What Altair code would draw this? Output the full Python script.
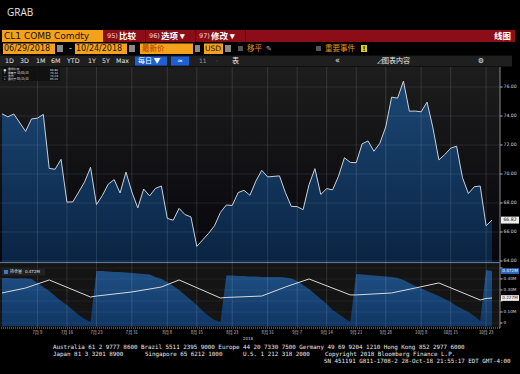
import altair as alt
import pandas as pd

# ---------------- data ----------------
dates = ["06/29", "07/02", "07/03", "07/05", "07/06", "07/09", "07/10", "07/11", "07/12", "07/13",
         "07/16", "07/17", "07/18", "07/19", "07/20", "07/23", "07/24", "07/25", "07/26", "07/27",
         "07/30", "07/31", "08/01", "08/02", "08/03", "08/06", "08/07", "08/08", "08/09", "08/10",
         "08/13", "08/14", "08/15", "08/16", "08/17", "08/20", "08/21", "08/22", "08/23", "08/24",
         "08/27", "08/28", "08/29", "08/30", "08/31", "09/04", "09/05", "09/06", "09/07", "09/10",
         "09/11", "09/12", "09/13", "09/14", "09/17", "09/18", "09/19", "09/20", "09/21", "09/24",
         "09/25", "09/26", "09/27", "09/28", "10/01", "10/02", "10/03", "10/04", "10/05", "10/08",
         "10/09", "10/10", "10/11", "10/12", "10/15", "10/16", "10/17", "10/18", "10/19", "10/22",
         "10/23", "10/24"]
# weekday position of each session (holidays leave a gap)
day_idx = [0, 1, 2] + list(range(4, 46)) + list(range(47, 84))
price = [74.15, 73.94, 74.14, 72.94, 73.80, 73.85, 74.11, 70.38, 70.33, 71.01,
         68.06, 68.08, 68.76, 69.46, 70.46, 67.89, 68.52, 69.30, 69.61, 68.69,
         70.13, 68.76, 67.66, 68.96, 68.49, 69.01, 69.17, 66.94, 66.81, 67.63,
         67.20, 67.04, 65.01, 65.46, 65.91, 66.43, 67.35, 67.86, 67.83, 68.72,
         68.87, 68.53, 69.51, 70.25, 69.80, 69.87, 68.72, 67.77, 67.75, 67.54,
         69.25, 70.37, 68.59, 68.99, 68.91, 69.85, 71.12, 70.80, 70.78, 72.08,
         72.28, 71.57, 72.12, 73.25, 75.30, 75.23, 76.41, 74.33, 74.34, 74.29,
         74.96, 73.17, 70.97, 71.34, 71.78, 71.92, 69.75, 68.65, 69.12, 69.17,
         66.43, 66.82]
open_int = [0.409, 0.409, 0.405, 0.405, 0.400, 0.364, 0.327, 0.291, 0.245, 0.200,
            0.164, 0.118, 0.073, 0.036, 0.009,
            0.473, 0.473, 0.468, 0.464, 0.464, 0.459, 0.455, 0.450, 0.445, 0.441,
            0.418, 0.400, 0.373, 0.336, 0.300, 0.255, 0.209, 0.164, 0.109, 0.064,
            0.027, 0.009,
            0.432, 0.432, 0.427, 0.427, 0.423, 0.423, 0.418, 0.418,
            0.418, 0.414, 0.405, 0.382, 0.345, 0.309, 0.264, 0.218, 0.173, 0.118,
            0.082, 0.045, 0.009,
            0.445, 0.441, 0.436, 0.432, 0.427, 0.423, 0.418, 0.409, 0.391, 0.364,
            0.336, 0.314, 0.291, 0.268, 0.245, 0.218, 0.191, 0.155, 0.127, 0.100,
            0.064, 0.018,
            0.482, 0.472]
wl_idx = [0, 4, 8, 15, 16, 22, 27, 30, 37, 38, 44, 48, 52, 59, 60, 66, 70, 74, 81, 82, 83]
wl_val = [0.273, 0.318, 0.391, 0.236, 0.245, 0.282, 0.327, 0.391, 0.227, 0.232, 0.245,
          0.327, 0.400, 0.255, 0.255, 0.273, 0.318, 0.364, 0.209, 0.223, 0.227]
tick_idx = [6, 11, 16, 22, 28, 33, 39, 45, 50, 55, 60, 65, 71, 76, 82]
tick_lbl = ["7月 9", "7月 16", "7月 23", "7月 31", "8月 8", "8月 15", "8月 23", "8月 31",
            "9月 7", "9月 14", "9月 21", "9月 28", "10月 8", "10月 15", "10月 23"]
price_ticks = [64, 66, 68, 70, 72, 74, 76]
oi_ticks = [0, 0.1, 0.2, 0.3, 0.4, 0.5]
legend_names = ["最新价格", "最高于 10/03/18", "平均", "最低于 08/15/18"]
legend_marks = ["■", "↑", "—", "↓"]
legend_vals = ["66.82", "76.41", "70.03", "65.01"]
footer = ["Australia 61 2 9777 8600 Brazil 5511 2395 9000 Europe 44 20 7330 7500 Germany 49 69 9204 1210 Hong Kong 852 2977 6000",
          "Japan 81 3 3201 8900", "Singapore 65 6212 1000", "U.S. 1 212 318 2000",
          "Copyright 2018 Bloomberg Finance L.P.",
          "SN 451191 G811-1708-2 28-Oct-18 21:55:17 EDT  GMT-4:00"]

df = pd.DataFrame({"i": day_idx, "p": price, "oi": open_int, "d": dates})
last = df.tail(1)
wl = pd.DataFrame({"i": wl_idx, "w": wl_val})
wl_last = wl.tail(1)
ticks = pd.DataFrame({"t": tick_idx, "lbl": tick_lbl})
pt = pd.DataFrame({"v": price_ticks})
ot = pd.DataFrame({"v": oi_ticks})
# tick labels hidden under the last-value boxes are not drawn (as in the terminal)
ot_lbl = ot[(abs(ot["v"] - open_int[-1]) > 0.035) & (abs(ot["v"] - wl_val[-1]) > 0.035)]

CJK = "Noto Sans CJK SC"
SANS = "DejaVu Sans"
MONO = "DejaVu Sans Mono"
one = pd.DataFrame({"k": [0]})

P_MIN, P_MAX = 63.93, 77.38
O_MIN, O_MAX = -0.03, 0.527
X = alt.Scale(domain=[0, 83], range=[2, 492], nice=False, zero=False)
PY = alt.Scale(domain=[P_MIN, P_MAX], range=[262, 67], nice=False, zero=False)
OY = alt.Scale(domain=[O_MIN, O_MAX], range=[326.3, 265], nice=False, zero=False)


def rect(x1, y1, x2, y2, color, **kw):
    return alt.Chart(one).mark_rect(color=color, **kw).encode(
        x=alt.value(x1), x2=alt.value(x2), y=alt.value(y1), y2=alt.value(y2))


def label(s, x, y, size=7.0, color="#ffffff", align="left", font=CJK, weight="normal"):
    return alt.Chart(one).mark_text(text=s, align=align, baseline="middle", fontSize=size,
                                    color=color, font=font, fontWeight=weight).encode(
        x=alt.value(x), y=alt.value(y))


def grad(c0, c1):
    return alt.Gradient(gradient="linear", x1=1, x2=1, y1=0, y2=1,
                        stops=[alt.GradientStop(color=c0, offset=0),
                               alt.GradientStop(color=c1, offset=1)])


ORANGE = "#f4a11c"
layers = []

# ---------------- header / toolbars ----------------
layers.append(label("GRAB", 7, 13, size=10, color="#e6e6e6", font="Open Sans"))
layers.append(rect(2, 30, 103, 42, ORANGE))
layers.append(rect(103, 30, 515, 42, "#8c0d17"))
for sx in [145, 195, 245]:
    layers.append(rect(sx, 30, sx + 1, 42, "#4d0309"))
layers.append(label("CL1 COMB Comdty", 4, 36.3, size=9, color="#141414", font=SANS))
for num, txt, x in [("95)", "比较", 107), ("96)", "选项 ▾", 149), ("97)", "修改 ▾", 199)]:
    layers.append(label(num, x, 36.3, size=6.5, color="#f2d6d6", font=SANS))
    layers.append(label(txt, x + 12, 36, size=8.5, color="#ffffff", weight="bold"))
layers.append(label("线图", 511, 36, size=8.5, color="#ffffff", align="right", weight="bold"))

# row 2
layers.append(rect(3, 43.5, 55, 54, ORANGE))
layers.append(label("06/29/2018", 4, 49, size=8, color="#141414", font=SANS))
layers.append(rect(57, 45, 63, 52, "#8a8a8a"))
layers.append(label("-", 69, 49, size=8, color="#dddddd", font=SANS))
layers.append(rect(75, 43.5, 127, 54, ORANGE))
layers.append(label("10/24/2018", 76, 49, size=8, color="#141414", font=SANS))
layers.append(rect(129, 45, 135, 52, "#8a8a8a"))
layers.append(rect(140, 43.5, 193, 54, ORANGE))
layers.append(label("最新价", 142, 48.7, size=7.5, color="#b23c00"))
layers.append(rect(195, 45, 200, 52, "#8a8a8a"))
layers.append(rect(204, 43.5, 223, 54, ORANGE))
layers.append(label("USD", 205, 49, size=7.5, color="#141414", font=SANS))
layers.append(rect(225, 45, 231, 52, "#8a8a8a"))
layers.append(rect(238, 46, 243, 51, "#555555"))
layers.append(label("移平", 247, 48.7, size=7.5, color="#e8911c"))
layers.append(label("✎", 266, 49, size=7, color="#bbbbbb", font=SANS))
layers.append(rect(316, 46, 321, 51, "#555555"))
layers.append(label("重要事件", 325, 48.7, size=7.5, color="#e8911c"))
layers.append(rect(361, 45, 367, 52, "#e3cf10"))
layers.append(label("!", 364, 48.7, size=6.5, color="#111111", align="center", font=SANS, weight="bold"))

# row 3
layers.append(rect(0, 55.5, 512, 66.5, "#1f1f1f"))
for txt, x in [("1D", 5), ("3D", 20), ("1M", 36), ("6M", 51), ("YTD", 67), ("1Y", 88), ("5Y", 102), ("Max", 116)]:
    layers.append(label(txt, x, 61, size=6.3, color="#e6e6e6", font=SANS))
layers.append(rect(135, 56.5, 167, 65.5, "#1d5fd4"))
layers.append(label("每日 ▼", 138, 60.8, size=7, color="#ffffff"))
layers.append(rect(171, 56.5, 189, 65.5, "#1d5fd4"))
layers.append(label("≃", 180, 61, size=7, color="#ffffff", align="center", font=SANS))
layers.append(label("11", 199, 61, size=6, color="#9a9a9a", font=SANS))
layers.append(label("·", 216, 61, size=6, color="#9a9a9a", font=SANS))
layers.append(label("表", 232, 60.8, size=7, color="#e6e6e6"))
layers.append(label("«", 335, 60.5, size=8, color="#e6e6e6", font=SANS))
layers.append(label("◿图表内容", 377, 60.8, size=7, color="#e6e6e6"))
layers.append(label("⚙", 481, 60.8, size=7, color="#e6e6e6", font=SANS, align="center"))

# ---------------- panel backgrounds ----------------
layers.append(rect(0, 67, 500, 262, grad("#1d1d1d", "#06060c")))
layers.append(rect(0, 264, 500, 327, "#141414"))

# ---------------- price panel ----------------
price_area = alt.Chart(df).mark_area(color=grad("#1b4775", "#0a2443")).encode(
    x=alt.X("i:Q", scale=X, axis=None),
    y=alt.Y("p:Q", scale=PY, axis=None),
    y2=alt.datum(P_MIN))
hgrid = alt.Chart(pt).mark_rule(color="#ffffff", opacity=0.09, strokeWidth=1).encode(
    y=alt.Y("v:Q", scale=PY, axis=None), x=alt.value(0), x2=alt.value(500))
p_ticks = alt.Chart(pt).mark_rule(color="#bbbbbb", strokeWidth=1).encode(
    y=alt.Y("v:Q", scale=PY, axis=None), x=alt.value(500), x2=alt.value(502.5))
p_lbls = alt.Chart(pt).mark_text(font=SANS, fontSize=4.6, color="#d6d6d6", align="left",
                                 baseline="middle").encode(
    y=alt.Y("v:Q", scale=PY, axis=None), x=alt.value(503.5), text=alt.Text("v:Q", format=".2f"))
price_line = alt.Chart(df).mark_line(color="#c9d0d8", strokeWidth=1).encode(
    x=alt.X("i:Q", scale=X, axis=None), y=alt.Y("p:Q", scale=PY, axis=None))
last_box = alt.Chart(last).transform_calculate(hi="datum.p + 0.24", lo="datum.p - 0.24").mark_rect(
    color="#eeeeee").encode(x=alt.value(501), x2=alt.value(519),
                            y=alt.Y("hi:Q", scale=PY, axis=None), y2="lo:Q")
last_txt = alt.Chart(last).mark_text(font=SANS, fontSize=4.6, color="#111111", align="center",
                                     baseline="middle").encode(
    x=alt.value(510), y=alt.Y("p:Q", scale=PY, axis=None), text=alt.Text("p:Q", format=".2f"))
price_group = alt.layer(price_area, hgrid, price_line, p_ticks, p_lbls, last_box, last_txt)

# ---------------- open interest panel ----------------
oi_area = alt.Chart(df).mark_area(color=grad("#1e4f84", "#103664")).encode(
    x=alt.X("i:Q", scale=X, axis=None),
    y=alt.Y("oi:Q", scale=OY, axis=None),
    y2=alt.datum(O_MIN))
oi_grid = alt.Chart(ot).mark_rule(color="#ffffff", opacity=0.06, strokeWidth=1).encode(
    y=alt.Y("v:Q", scale=OY, axis=None), x=alt.value(0), x2=alt.value(500))
o_ticks = alt.Chart(ot).mark_rule(color="#bbbbbb", strokeWidth=1).encode(
    y=alt.Y("v:Q", scale=OY, axis=None), x=alt.value(500), x2=alt.value(502.5))
o_lbls = alt.Chart(ot_lbl).transform_calculate(
    s="datum.v == 0 ? '0' : format(datum.v, '.2f') + 'M'").mark_text(
    font=SANS, fontSize=4.2, color="#d6d6d6", align="left", baseline="middle").encode(
    y=alt.Y("v:Q", scale=OY, axis=None), x=alt.value(503.5), text="s:N")
white_line = alt.Chart(wl).mark_line(color="#d9d9d9", strokeWidth=1).encode(
    x=alt.X("i:Q", scale=X, axis=None), y=alt.Y("w:Q", scale=OY, axis=None))
oi_box = alt.Chart(last).transform_calculate(hi="datum.oi + 0.026", lo="datum.oi - 0.026").mark_rect(
    color="#2c6cc0").encode(x=alt.value(501), x2=alt.value(519),
                            y=alt.Y("hi:Q", scale=OY, axis=None), y2="lo:Q")
oi_txt = alt.Chart(last).transform_calculate(s="format(datum.oi, '.3f') + 'M'").mark_text(
    font=SANS, fontSize=4.2, color="#ffffff", align="center", baseline="middle").encode(
    x=alt.value(510), y=alt.Y("oi:Q", scale=OY, axis=None), text="s:N")
wl_box = alt.Chart(wl_last).transform_calculate(hi="datum.w + 0.026", lo="datum.w - 0.026").mark_rect(
    color="#eeeeee").encode(x=alt.value(501), x2=alt.value(519),
                            y=alt.Y("hi:Q", scale=OY, axis=None), y2="lo:Q")
wl_txt = alt.Chart(wl_last).transform_calculate(s="format(datum.w, '.3f') + 'M'").mark_text(
    font=SANS, fontSize=4.2, color="#111111", align="center", baseline="middle").encode(
    x=alt.value(510), y=alt.Y("w:Q", scale=OY, axis=None), text="s:N")
oi_group = alt.layer(oi_area, oi_grid, white_line, o_ticks, o_lbls, oi_box, oi_txt, wl_box, wl_txt)

layers.append(price_group)
layers.append(oi_group)

# right axis line and separator between panels
layers.append(alt.Chart(one).mark_rule(color="#8a8a8a", strokeWidth=1).encode(
    x=alt.value(500), y=alt.value(67), y2=alt.value(328)))
layers.append(rect(0, 262, 500, 263.3, "#5d7897"))

# vertical grid lines
layers.append(alt.Chart(ticks).mark_rule(color="#ffffff", opacity=0.12, strokeWidth=1).encode(
    x=alt.X("t:Q", scale=X, axis=None), y=alt.value(67), y2=alt.value(327)))

# legends
layers.append(rect(2, 67, 60, 81, "#111111", opacity=0.9))
for k in range(4):
    yy = 69.4 + k * 3.2
    layers.append(label(legend_marks[k], 3.5, yy, size=2.8, color="#e0e0e0", font=SANS))
    layers.append(label(legend_names[k], 8, yy, size=2.8, color="#e0e0e0"))
    layers.append(label(legend_vals[k], 58, yy, size=2.8, color="#e0e0e0", align="right", font=SANS))
layers.append(rect(2, 268.5, 45, 275.5, "#222222"))
layers.append(rect(4, 270, 8, 274, "#3b78c8"))
layers.append(label("持仓量", 10, 272, size=4, color="#e0e0e0"))
layers.append(label("0.472M", 25, 272, size=4, color="#e0e0e0", font=SANS))

# x axis
layers.append(alt.Chart(one).mark_rule(color="#9a9a9a", strokeDash=[1, 1], strokeWidth=1).encode(
    x=alt.value(1), x2=alt.value(500), y=alt.value(328)))
layers.append(alt.Chart(ticks).mark_text(font=CJK, fontSize=4.2, color="#cfcfcf", baseline="middle",
                                         align="center").encode(
    x=alt.X("t:Q", scale=X, axis=None), y=alt.value(332.5), text="lbl:N"))
layers.append(label("2018", 248, 338.5, size=4, color="#cfcfcf", align="center", font=SANS))

# footer
layers.append(label(footer[0], 53, 347, size=5.85, color="#e8e8e8", font=MONO))
layers.append(label(footer[1], 53, 354, size=5.85, color="#e8e8e8", font=MONO))
layers.append(label(footer[2], 145, 354, size=5.85, color="#e8e8e8", font=MONO))
layers.append(label(footer[3], 243, 354, size=5.85, color="#e8e8e8", font=MONO))
layers.append(label(footer[4], 325, 354, size=5.85, color="#e8e8e8", font=MONO))
layers.append(label(footer[5], 324, 361, size=5.85, color="#e8e8e8", font=MONO))

chart = alt.layer(*layers).resolve_scale(y="independent").properties(
    width=500, height=328,
    autosize=alt.AutoSizeParams(type="none"),
    padding={"left": 0, "top": 0, "right": 20, "bottom": 46},
    background="#000000",
).configure_view(stroke=None)

chart.save("out.html", embed_options={"renderer": "svg", "actions": False})
